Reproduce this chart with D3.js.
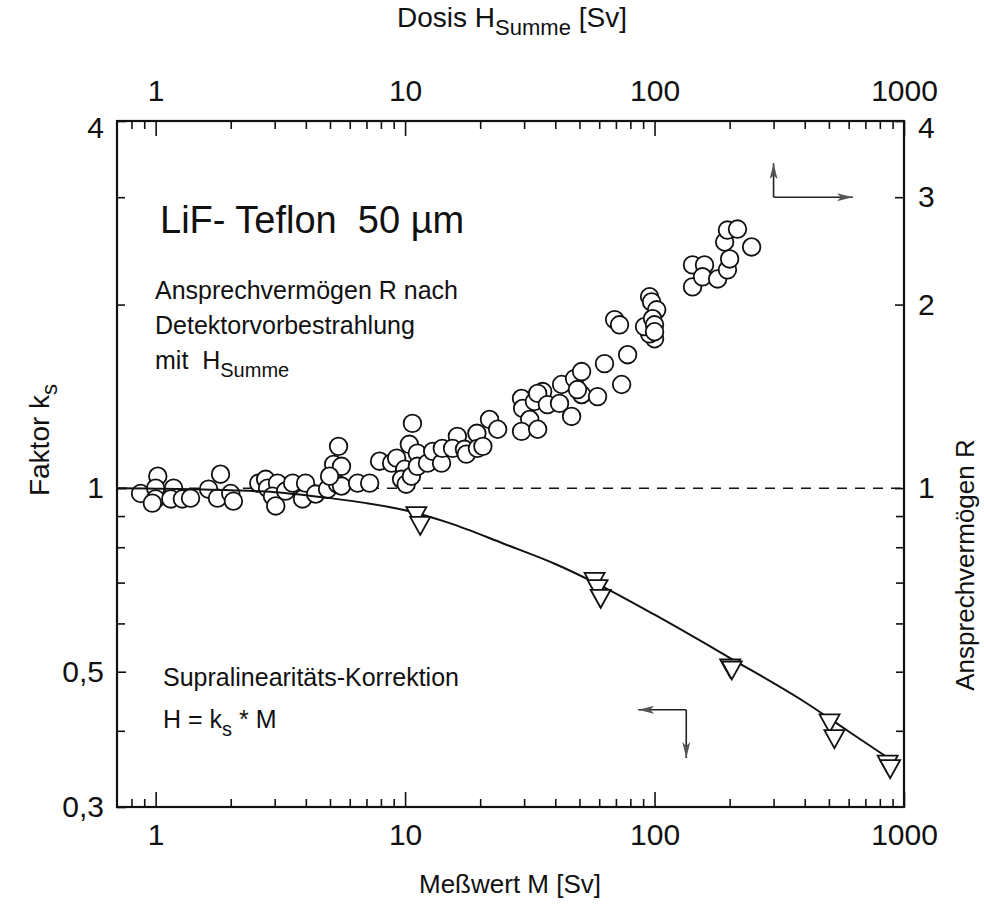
<!DOCTYPE html>
<html>
<head>
<meta charset="utf-8">
<script src="https://cdn.jsdelivr.net/npm/d3@7"></script>
<style>
  body { margin: 0; background: #fff; }
  text { font-family: "Liberation Sans", Arial, sans-serif; fill: #111; }
</style>
</head>
<body>
<svg id="chart" width="984" height="909"></svg>
<script>
const width = 984;
const height = 909;

// circles: response R after pre-irradiation with H_Summe (top / right axes)
const circleH = [0.87, 1.02, 1.00, 1.00, 0.97, 1.18, 1.15, 1.28, 1.38, 1.63, 1.77, 1.82, 2.00, 2.05,
  2.59, 2.76, 2.81, 3.08, 2.94, 3.03, 3.32, 3.54, 3.88, 3.99, 4.38, 4.89, 5.12, 5.17, 5.41, 5.36,
  5.56, 5.56, 6.45, 7.21, 4.98, 10.7, 7.9, 8.83, 9.25, 10.4, 11.2, 9.96, 9.68, 10.1, 10.6, 11.2,
  12.3, 12.9, 14.0, 14.1, 16.2, 15.5, 17.3, 17.6, 19.4, 19.5, 20.5, 21.8, 23.5, 29.3, 29.6, 33.0,
  31.6, 29.3, 34.0, 35.6, 34.0, 37.2, 41.6, 42.4, 46.5, 47.8, 51.0, 51.0, 49.1, 59.1, 63.0, 73.8,
  78.0, 100, 95.5, 69.2, 72.4, 91.2, 95.5, 97.3, 102, 98.2, 100, 100, 142, 142, 158.6, 155.7,
  179, 196, 200, 191, 196, 215, 245];
const circleR = [0.98, 1.046, 1.00, 0.96, 0.945, 1.00, 0.96, 0.96, 0.963, 0.996, 0.963, 1.054, 0.98, 0.952,
  1.019, 1.034, 1.00, 1.019, 0.970, 0.935, 0.989, 1.019, 0.96, 1.019, 0.978, 0.996, 1.054, 1.094, 1.171, 1.015,
  1.086, 1.008, 1.019, 1.019, 1.046, 1.277, 1.107, 1.099, 1.12, 1.18, 1.141, 1.074, 1.034, 1.015, 1.046, 1.086,
  1.099, 1.149, 1.099, 1.162, 1.216, 1.162, 1.158, 1.137, 1.230, 1.162, 1.171, 1.296, 1.249, 1.403, 1.351, 1.387,
  1.296, 1.239, 1.249, 1.44, 1.43, 1.371, 1.377, 1.479, 1.311, 1.512, 1.553, 1.424, 1.451, 1.413, 1.600, 1.479,
  1.655, 1.758, 1.791, 1.889, 1.853, 1.84, 2.06, 2.02, 1.961, 1.896, 1.853, 1.805, 2.138, 2.323, 2.323, 2.221,
  2.203, 2.28, 2.376, 2.533, 2.65, 2.66, 2.486];

// triangles: supralinearity correction k_s vs measured value M
const triM = [11.1, 11.5, 57.5, 59.1, 60.8, 201, 204, 503, 526, 860, 880];
const triK = [0.910, 0.877, 0.710, 0.691, 0.666, 0.512, 0.508, 0.416, 0.392, 0.356, 0.350];

// fitted correction curve
const curveM = [0.7, 1, 2, 3, 5, 7, 10, 15, 25, 40, 60, 100, 200, 400, 600, 900];
const curveK = [1.0, 0.998, 0.992, 0.985, 0.963, 0.945, 0.920, 0.877, 0.810, 0.751, 0.694, 0.620, 0.527, 0.446, 0.399, 0.357];

const xMajor = [1, 10, 100, 1000];
const xMinor = [0.8, 0.9, 2, 3, 4, 5, 6, 7, 8, 9, 20, 30, 40, 50, 60, 70, 80, 90,
  200, 300, 400, 500, 600, 700, 800, 900];
const yLeftLabels = [0.3, 0.5, 1, 4];
const yLeftMinor = [0.4, 0.6, 0.7, 0.8, 0.9, 2, 3];
const yRightLabels = [1, 2, 3, 4];
const yRightMinor = [0.4, 0.5, 0.6, 0.7, 0.8, 0.9];

const svg = d3.select("#chart")
  .attr("viewBox", [0, 0, width, height]);

const x = d3.scaleLog().domain([0.7, 1000]).range([117, 904]);
const y = d3.scaleLog().domain([0.3, 4]).range([807, 121]);

const comma = d => String(d).replace(".", ",");

function styleAxis(g, size) {
  g.select(".domain").remove();
  g.attr("font-size", size).attr("font-family", "Liberation Sans, Arial, sans-serif");
  g.selectAll(".tick line").attr("stroke", "#111").attr("stroke-width", 1.6);
  g.selectAll(".tick text").attr("fill", "#111");
  // the top label (4) sits a little below its tick, as in the original
  g.selectAll(".tick text").filter(d => d === 4).attr("dy", "0.55em");
}

// bottom axis
svg.append("g").attr("transform", "translate(0,807)")
  .call(d3.axisBottom(x).tickValues(xMajor).tickSize(-15).tickPadding(17).tickFormat(d3.format("d")))
  .call(g => styleAxis(g, 30));
svg.append("g").attr("transform", "translate(0,807)")
  .call(d3.axisBottom(x).tickValues(xMinor).tickSize(-8).tickFormat(""))
  .call(g => styleAxis(g, 30));

// top axis
svg.append("g").attr("transform", "translate(0,121)")
  .call(d3.axisTop(x).tickValues(xMajor).tickSize(-15).tickPadding(20).tickFormat(d3.format("d")))
  .call(g => styleAxis(g, 30));
svg.append("g").attr("transform", "translate(0,121)")
  .call(d3.axisTop(x).tickValues(xMinor).tickSize(-8).tickFormat(""))
  .call(g => styleAxis(g, 30));

// left axis
svg.append("g").attr("transform", "translate(117,0)")
  .call(d3.axisLeft(y).tickValues(yLeftLabels).tickSize(-9).tickPadding(13).tickFormat(comma))
  .call(g => styleAxis(g, 30));
svg.append("g").attr("transform", "translate(117,0)")
  .call(d3.axisLeft(y).tickValues(yLeftMinor).tickSize(-8).tickFormat(""))
  .call(g => styleAxis(g, 30));

// right axis
svg.append("g").attr("transform", "translate(904,0)")
  .call(d3.axisRight(y).tickValues(yRightLabels).tickSize(-9).tickPadding(14).tickFormat(d3.format("d")))
  .call(g => styleAxis(g, 30));
svg.append("g").attr("transform", "translate(904,0)")
  .call(d3.axisRight(y).tickValues(yRightMinor).tickSize(-8).tickFormat(""))
  .call(g => styleAxis(g, 30));

// frame
svg.append("rect")
  .attr("x", x(0.7)).attr("y", y(4))
  .attr("width", x(1000) - x(0.7)).attr("height", y(0.3) - y(4))
  .attr("fill", "none").attr("stroke", "#111").attr("stroke-width", 2.2);

// reference line R = 1
svg.append("line")
  .attr("x1", x(0.7)).attr("x2", x(1000))
  .attr("y1", y(1)).attr("y2", y(1))
  .attr("stroke", "#111").attr("stroke-width", 1.5)
  .attr("stroke-dasharray", "10,8");

// circles
const circles = circleH.map((h, i) => [h, circleR[i]]);
svg.append("g")
  .selectAll("circle")
  .data(circles)
  .join("circle")
    .attr("cx", d => x(d[0]))
    .attr("cy", d => y(d[1]))
    .attr("r", 8.8)
    .attr("fill", "#fff")
    .attr("stroke", "#111")
    .attr("stroke-width", 1.8);

// correction curve
const line = d3.line()
  .x(d => x(d[0]))
  .y(d => y(d[1]))
  .curve(d3.curveMonotoneX);
svg.append("path")
  .datum(curveM.map((m, i) => [m, curveK[i]]))
  .attr("d", line)
  .attr("fill", "none")
  .attr("stroke", "#111")
  .attr("stroke-width", 2);

// triangles (pointing down)
const tw = 20, th = 18;
const triPath = `M${-tw / 2},${-th / 3}L${tw / 2},${-th / 3}L0,${2 * th / 3}Z`;
svg.append("g")
  .selectAll("path")
  .data(triM.map((m, i) => [m, triK[i]]))
  .join("path")
    .attr("d", triPath)
    .attr("transform", d => `translate(${x(d[0])},${y(d[1])})`)
    .attr("fill", "#fff")
    .attr("stroke", "#111")
    .attr("stroke-width", 1.8);

// arrows showing which axes belong to which data
const defs = svg.append("defs");
defs.append("marker")
  .attr("id", "head")
  .attr("viewBox", "0 0 16 8")
  .attr("refX", 16).attr("refY", 4)
  .attr("markerWidth", 16).attr("markerHeight", 8)
  .attr("markerUnits", "userSpaceOnUse")
  .attr("orient", "auto")
  .append("path")
    .attr("d", "M0,0L16,4L0,8L4,4Z")
    .attr("fill", "#555");

const arrowUpRight = [[300, 3.0], [300, 3.41], [300, 3.0], [624, 3.0]];
const arrowLeftDown = [[134, 0.433], [86, 0.433], [134, 0.433], [134, 0.361]];

function drawArrow(a) {
  [[a[0], a[1]], [a[2], a[3]]].forEach(([p, q]) => {
    svg.append("line")
      .attr("x1", x(p[0])).attr("y1", y(p[1]))
      .attr("x2", x(q[0])).attr("y2", y(q[1]))
      .attr("stroke", "#222").attr("stroke-width", 1.6)
      .attr("marker-end", "url(#head)");
  });
}
drawArrow(arrowUpRight);
drawArrow(arrowLeftDown);

// text annotations
svg.append("text").attr("x", 160).attr("y", 233)
  .attr("font-size", 38).text("LiF- Teflon\u00a0\u00a050 µm");

const t1 = svg.append("g").attr("font-size", 25);
t1.append("text").attr("x", 155).attr("y", 299).text("Ansprechvermögen R nach");
t1.append("text").attr("x", 155).attr("y", 334).text("Detektorvorbestrahlung");
const mit = t1.append("text").attr("x", 155).attr("y", 369);
mit.append("tspan").text("mit\u00a0\u00a0H");
mit.append("tspan").attr("font-size", 20).attr("dy", 8).text("Summe");

const t2 = svg.append("g").attr("font-size", 25);
t2.append("text").attr("x", 163).attr("y", 686).text("Supralinearitäts-Korrektion");
const hk = t2.append("text").attr("x", 163).attr("y", 728);
hk.append("tspan").text("H = k");
hk.append("tspan").attr("font-size", 20).attr("dy", 8).text("s");
hk.append("tspan").attr("dy", -8).text(" * M");

// axis titles
const topTitle = svg.append("text").attr("x", 512).attr("y", 27)
  .attr("text-anchor", "middle").attr("font-size", 28);
topTitle.append("tspan").text("Dosis H");
topTitle.append("tspan").attr("font-size", 22).attr("dy", 8).text("Summe");
topTitle.append("tspan").attr("dy", -8).text(" [Sv]");

svg.append("text").attr("x", 510).attr("y", 893)
  .attr("text-anchor", "middle").attr("font-size", 26)
  .text("Meßwert M [Sv]");

const leftTitle = svg.append("text")
  .attr("transform", "translate(49,440) rotate(-90)")
  .attr("text-anchor", "middle").attr("font-size", 28);
leftTitle.append("tspan").text("Faktor k");
leftTitle.append("tspan").attr("font-size", 22).attr("dy", 8).text("s");

svg.append("text")
  .attr("transform", "translate(974,565) rotate(-90)")
  .attr("text-anchor", "middle").attr("font-size", 26)
  .text("Ansprechvermögen R");
</script>
</body>
</html>
